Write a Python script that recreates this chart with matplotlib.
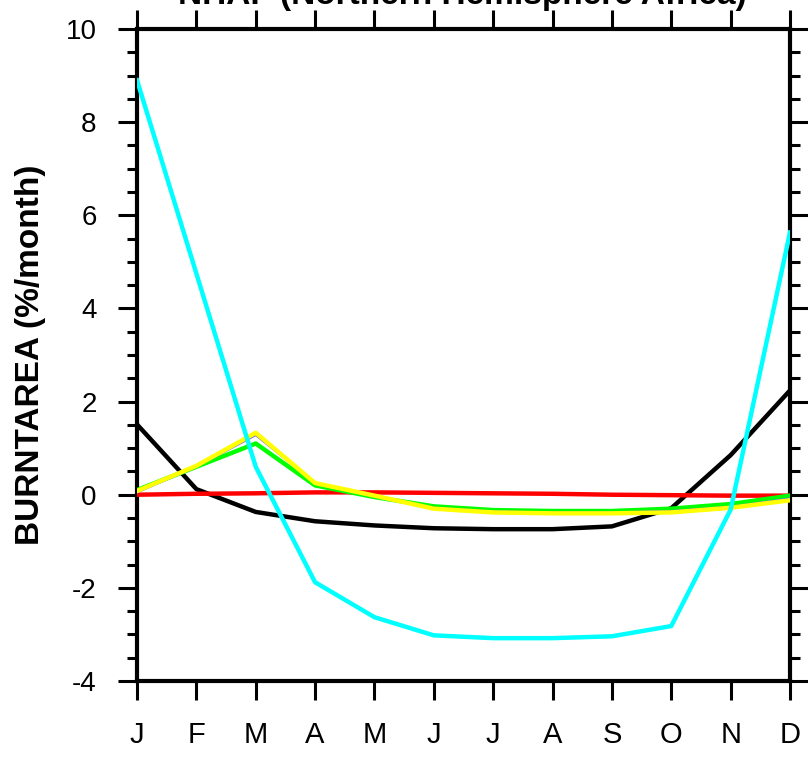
import matplotlib
matplotlib.use("Agg")
import matplotlib.pyplot as plt
from matplotlib.ticker import MultipleLocator

plt.rcParams['font.family'] = ['Liberation Sans', 'DejaVu Sans']
plt.rcParams['axes.unicode_minus'] = False

months = ["J", "F", "M", "A", "M", "J", "J", "A", "S", "O", "N", "D"]
black = [1.51, 0.12, -0.37, -0.57, -0.66, -0.72, -0.74, -0.74, -0.68, -0.29, 0.85, 2.24]
cyan = [8.9, 4.75, 0.6, -1.88, -2.63, -3.02, -3.08, -3.08, -3.04, -2.82, -0.32, 5.63]
red = [0.0, 0.02, 0.03, 0.05, 0.05, 0.04, 0.03, 0.02, 0.0, -0.01, -0.02, -0.02]
green = [0.1, 0.6, 1.1, 0.2, -0.05, -0.25, -0.33, -0.35, -0.35, -0.3, -0.2, -0.02]
blue = [0.05, 0.6, 1.28, 0.25, -0.02, -0.28, -0.36, -0.38, -0.38, -0.35, -0.26, -0.08]
yellow = [0.08, 0.62, 1.33, 0.25, -0.02, -0.3, -0.38, -0.4, -0.4, -0.38, -0.28, -0.12]

fig = plt.figure(figsize=(8.08, 7.57), dpi=100)
ax = fig.add_axes([137/808, 76/757, 653/808, 652/757])
x = list(range(len(months)))

lw = 3.2
ax.plot(x, black, color="black", lw=lw, zorder=2)
ax.plot(x, red, color="#ff0000", lw=lw, zorder=3)
ax.plot(x, green, color="#00ff00", lw=lw, zorder=4)
ax.plot(x, blue, color="#6060ff", lw=1.5, zorder=5)
ax.plot(x, yellow, color="#ffff00", lw=lw, zorder=6)
ax.plot(x, cyan, color="#00ffff", lw=lw, zorder=7)

ax.set_xlim(0, 11)
ax.set_ylim(-4, 10)
ax.set_xticks(x)
ax.set_xticklabels(months)
ax.yaxis.set_major_locator(MultipleLocator(2))
ax.yaxis.set_minor_locator(MultipleLocator(0.5))

for s in ax.spines.values():
    s.set_linewidth(3)
ax.tick_params(axis='both', which='major', direction='out', length=14, width=2.2,
               top=True, right=True)
ax.tick_params(axis='y', which='minor', direction='out', length=7.5, width=2.2,
               right=True)
ax.tick_params(axis='y', which='major', pad=15, labelsize=20)
ax.tick_params(axis='x', which='major', pad=15, labelsize=21)

ax.set_ylabel("BURNTAREA (%/month)", fontsize=24, fontweight='bold', labelpad=14)
fig.text(462/808, 1 - 4/757, "NHAF (Northern Hemisphere Africa)", ha='center',
         va='baseline', fontsize=24, fontweight='bold')

fig.savefig("out.png", dpi=100)
